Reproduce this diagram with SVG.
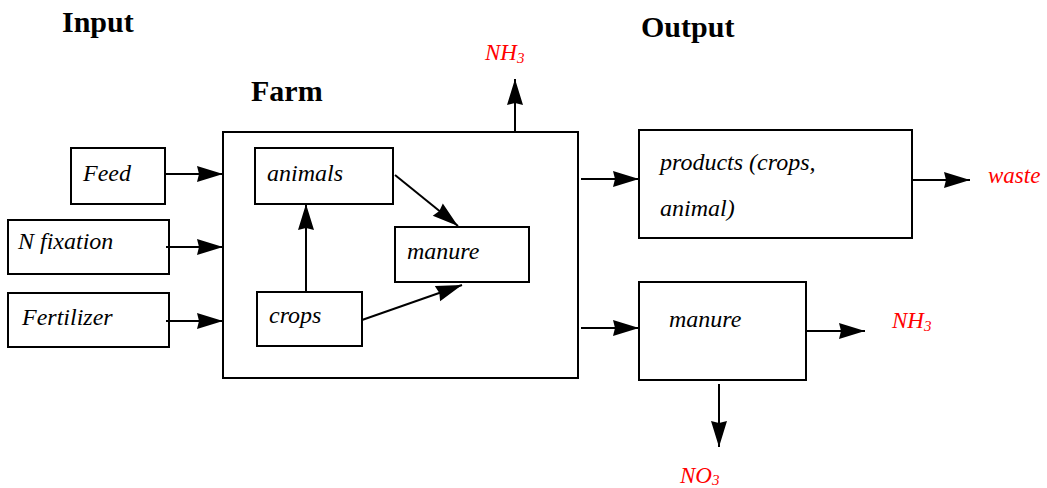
<svg xmlns="http://www.w3.org/2000/svg" width="1047" height="488" viewBox="0 0 1047 488">
<defs>
<marker id="ah" markerUnits="userSpaceOnUse" markerWidth="26" markerHeight="16" refX="26" refY="8" orient="auto" overflow="visible">
<path d="M0,0 L26,8 L0,16 L2,8 z" fill="#000"/>
</marker>
<style>
.box{fill:#fff;stroke:#000;stroke-width:2}
.t{font-family:"Liberation Serif","Times New Roman",serif;font-style:italic;font-size:24px;fill:#000}
.r{font-family:"Liberation Serif","Times New Roman",serif;font-style:italic;font-size:23px;fill:#ff0000}
.h{font-family:"Liberation Serif","Times New Roman",serif;font-weight:bold;font-size:30px;fill:#000}
.c{stroke:#000;stroke-width:2;fill:none;marker-end:url(#ah)}
</style>
</defs>
<rect width="1047" height="488" fill="#fff"/>
<g id="titles">
<text class="h" x="62" y="32">Input</text>
<text class="h" x="641" y="37">Output</text>
<text class="h" x="251" y="101">Farm</text>
</g>
<g id="farm"><rect class="box" x="223" y="132" width="355" height="246"/></g>
<g id="feed"><rect class="box" x="71" y="148" width="94" height="56"/><text class="t" x="83" y="181">Feed</text></g>
<g id="nfix"><rect class="box" x="8" y="220" width="161" height="54"/><text class="t" x="18" y="249">N fixation</text></g>
<g id="fert"><rect class="box" x="8" y="293" width="161" height="54"/><text class="t" x="22" y="325">Fertilizer</text></g>
<g id="animals"><rect class="box" x="255" y="148" width="138" height="56"/><text class="t" x="267" y="181">animals</text></g>
<g id="manure-in"><rect class="box" x="395" y="227" width="134" height="55"/><text class="t" x="407" y="259">manure</text></g>
<g id="crops"><rect class="box" x="257" y="292" width="105" height="54"/><text class="t" x="269" y="323">crops</text></g>
<g id="products"><rect class="box" x="639" y="130" width="273" height="108"/><text class="t" x="660" y="170">products (crops,</text><text class="t" x="660" y="216">animal)</text></g>
<g id="manure-out"><rect class="box" x="639" y="282" width="167" height="98"/><text class="t" x="669" y="327">manure</text></g>
<g id="labels">
<text class="r" font-size="22" x="485" y="60">NH<tspan font-size="15" dy="3">3</tspan></text>
<text class="r" font-size="22" x="892" y="328">NH<tspan font-size="15" dy="3">3</tspan></text>
<text class="r" font-size="22" x="680" y="483">NO<tspan font-size="15" dy="2">3</tspan></text>
<text class="r" font-size="24" x="988" y="183">waste</text>
</g>
<g id="connectors">
<line class="c" x1="166" y1="174" x2="223" y2="174"/>
<line class="c" x1="166" y1="247" x2="223" y2="247"/>
<line class="c" x1="166" y1="321" x2="223" y2="321"/>
<line class="c" x1="306" y1="292" x2="306" y2="204"/>
<line class="c" x1="395" y1="175" x2="458" y2="226"/>
<line class="c" x1="362" y1="320" x2="462" y2="285"/>
<line class="c" x1="515" y1="132" x2="515" y2="79"/>
<line class="c" x1="581" y1="179" x2="639" y2="179"/>
<line class="c" x1="912" y1="180" x2="970" y2="180"/>
<line class="c" x1="581" y1="328" x2="639" y2="328"/>
<line class="c" x1="806" y1="331" x2="865" y2="331"/>
<line class="c" x1="719" y1="384" x2="719" y2="447"/>
</g>
</svg>
